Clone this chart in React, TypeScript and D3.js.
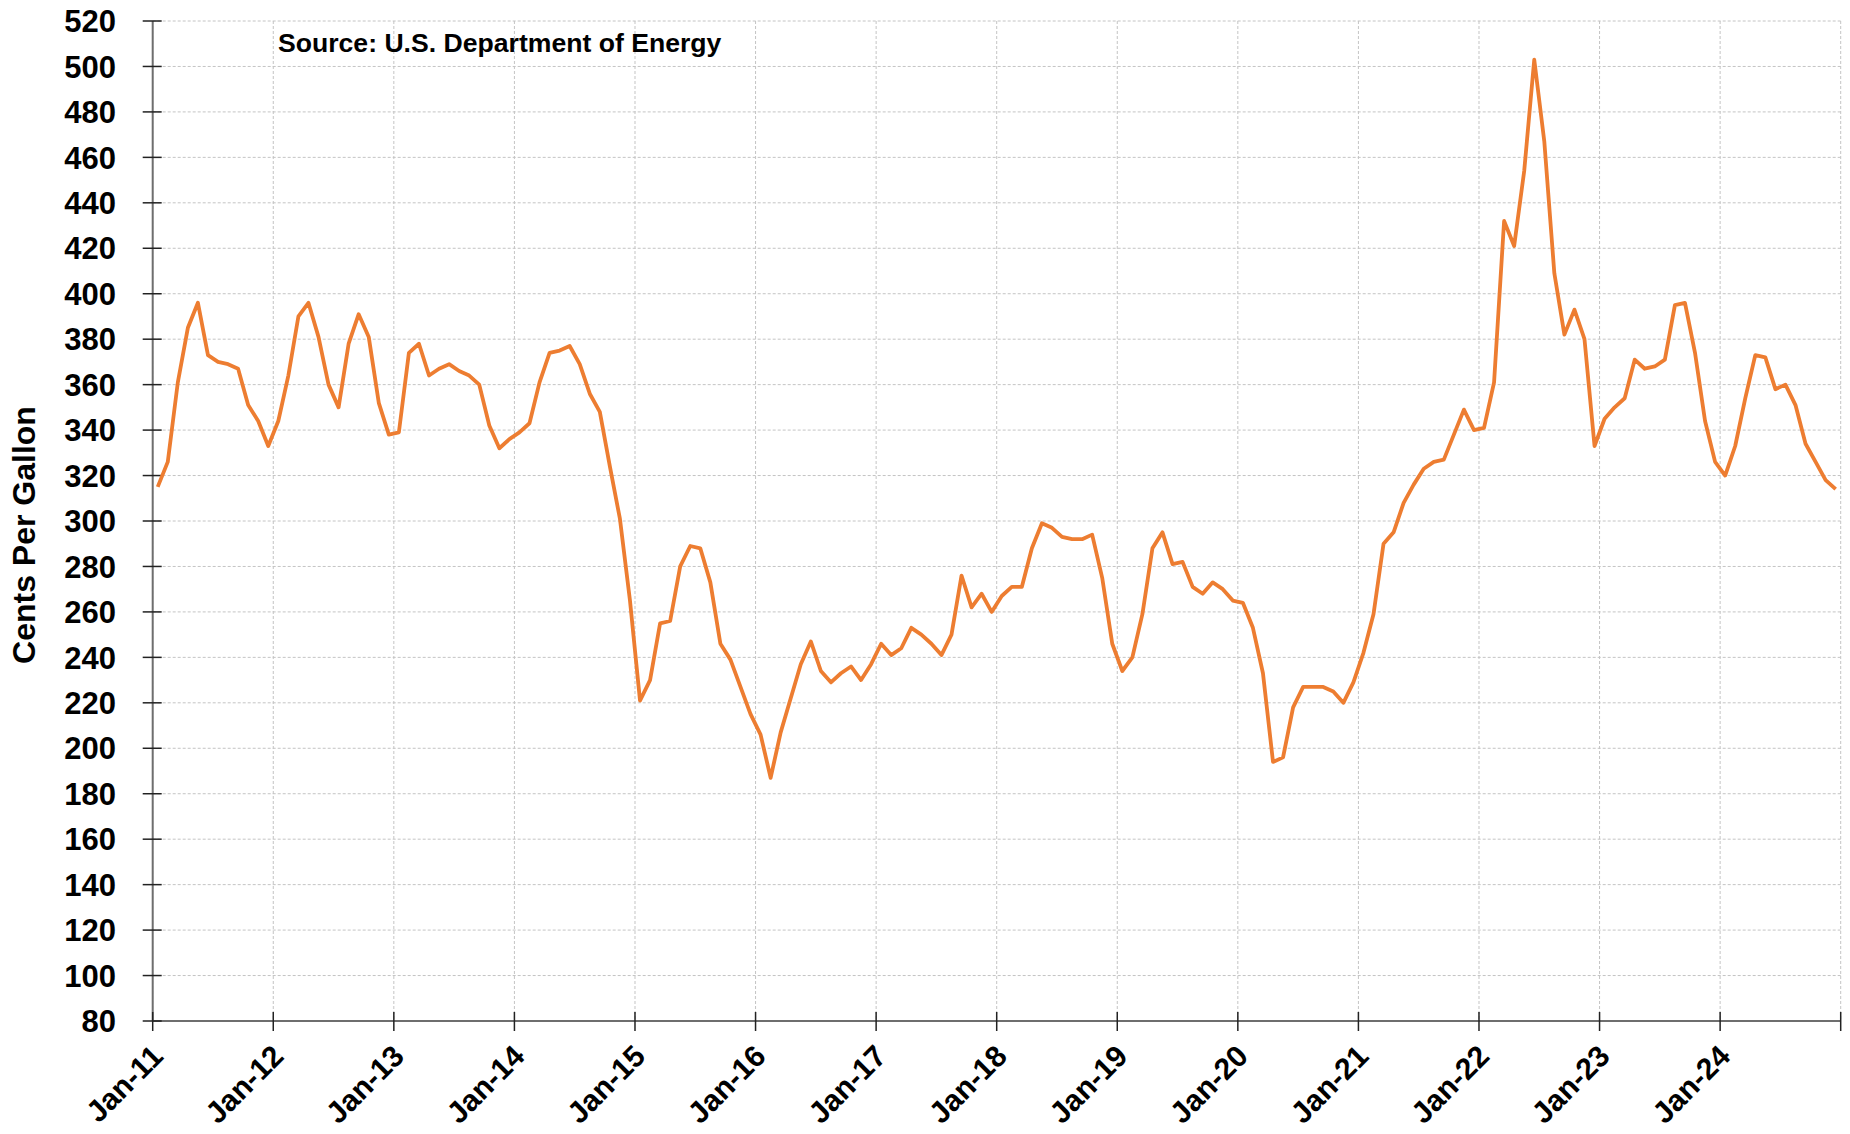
import React from "react";
import * as d3 from "d3";

const y2011 = [315, 326, 361, 385, 396, 373, 370, 369, 367, 351, 344, 333];
const y2012 = [344, 364, 390, 396, 381, 360, 350, 378, 391, 381, 352, 338];
const y2013 = [339, 374, 378, 364, 367, 369, 366, 364, 360, 342, 332, 336];
const y2014 = [339, 343, 361, 374, 375, 377, 369, 356, 348, 324, 301, 265];
const y2015 = [221, 230, 255, 256, 280, 289, 288, 273, 246, 239, 227, 215];
const y2016 = [206, 187, 207, 222, 237, 247, 234, 229, 233, 236, 230, 237];
const y2017 = [246, 241, 244, 253, 250, 246, 241, 250, 276, 262, 268, 260];
const y2018 = [267, 271, 271, 288, 299, 297, 293, 292, 292, 294, 275, 246];
const y2019 = [234, 240, 259, 288, 295, 281, 282, 271, 268, 273, 270, 265];
const y2020 = [264, 253, 233, 194, 196, 218, 227, 227, 227, 225, 220, 229];
const y2021 = [242, 259, 290, 295, 308, 316, 323, 326, 327, 338, 349, 340];
const y2022 = [341, 361, 432, 421, 454, 503, 467, 409, 382, 393, 380, 333];
const y2023 = [345, 350, 354, 371, 367, 368, 371, 395, 396, 374, 344, 326];
const y2024 = [320, 333, 354, 373, 372, 358, 360, 351, 334, 326, 318, 314];

const yearLabels = ["Jan-11", "Jan-12", "Jan-13", "Jan-14", "Jan-15", "Jan-16", "Jan-17", "Jan-18", "Jan-19", "Jan-20", "Jan-21", "Jan-22", "Jan-23", "Jan-24"];
const yTicks = d3.range(80, 521, 20);
const values = [
  ...y2011, ...y2012, ...y2013, ...y2014, ...y2015, ...y2016, ...y2017,
  ...y2018, ...y2019, ...y2020, ...y2021, ...y2022, ...y2023, ...y2024,
];

const W = 1850;
const H = 1134;
const left = 152.7;
const right = 1840.7;
const top = 21;
const bottom = 1021;
const FONT = "'Liberation Sans', Arial, Helvetica, sans-serif";

export default function App() {
  const x = d3.scaleBand<number>().domain(d3.range(values.length)).range([left, right]).padding(0);
  const y = d3.scaleLinear().domain([80, 520]).range([bottom, top]);
  const line = d3
    .line<number>()
    .x((_, i) => (x(i) as number) + x.bandwidth() / 2)
    .y((d) => y(d));

  const yearTickX = yearLabels.map((_, k) => x(k * 12) as number);
  const allXTicks = [...yearTickX, right];

  return (
    <svg width={W} height={H} style={{ position: "absolute", left: 0, top: 0, background: "#fff" }} fontFamily={FONT}>
      {yTicks.map((t) => (
        <line key={"hg" + t} x1={left} x2={right} y1={y(t)} y2={y(t)} stroke="#c4c4c4" strokeWidth={1} strokeDasharray="3,2" />
      ))}
      {allXTicks.map((px, k) => (
        <line key={"vg" + k} x1={px} x2={px} y1={top} y2={bottom} stroke="#c4c4c4" strokeWidth={1} strokeDasharray="3,2" />
      ))}
      <line x1={left} x2={left} y1={top} y2={bottom} stroke="#6e6e6e" strokeWidth={2} />
      <line x1={left} x2={right} y1={bottom} y2={bottom} stroke="#6e6e6e" strokeWidth={2} />
      {yTicks.map((t) => (
        <line key={"yt" + t} x1={left - 10} x2={left + 9} y1={y(t)} y2={y(t)} stroke="#222" strokeWidth={1.5} />
      ))}
      {allXTicks.map((px, k) => (
        <line key={"xt" + k} x1={px} x2={px} y1={bottom - 9} y2={bottom + 10} stroke="#222" strokeWidth={1.5} />
      ))}
      {yTicks.map((t) => (
        <text key={"yl" + t} x={116} y={y(t)} dy="0.36em" textAnchor="end" fontSize={31} fontWeight="bold" fill="#000">
          {t}
        </text>
      ))}
      {yearLabels.map((lab, k) => (
        <text
          key={"xl" + k}
          transform={`translate(${yearTickX[k] + 12},${bottom + 37}) rotate(-45)`}
          textAnchor="end"
          fontSize={30}
          fontWeight="bold"
          fill="#000"
        >
          {lab}
        </text>
      ))}
      <text transform="translate(35,535) rotate(-90)" textAnchor="middle" fontSize={32} fontWeight="bold" fill="#000">
        Cents Per Gallon
      </text>
      <text x={278} y={52} fontSize={26.6} fontWeight="bold" fill="#000">
        Source: U.S. Department of Energy
      </text>
      <path d={line(values) || ""} fill="none" stroke="#ED7D31" strokeWidth={3.8} strokeLinejoin="round" />
    </svg>
  );
}
